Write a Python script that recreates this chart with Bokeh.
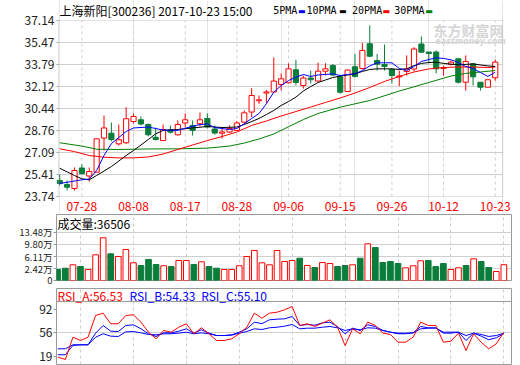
from bokeh.plotting import figure
from bokeh.models import Range1d, FixedTicker, Label, Span, ColumnDataSource, BoxAnnotation
from bokeh.core.properties import value
from bokeh.layouts import column
from bokeh.embed import file_html
from bokeh.resources import INLINE

# ---------------- data ----------------
dates = ["07-25", "07-26", "07-27", "07-28", "07-31", "08-01", "08-02", "08-03", "08-04", "08-07",
         "08-08", "08-09", "08-10", "08-11", "08-14", "08-15", "08-16", "08-17", "08-18", "08-21",
         "08-22", "08-23", "08-24", "08-25", "08-28", "08-29", "08-30", "08-31", "09-01", "09-04",
         "09-05", "09-06", "09-07", "09-08", "09-11", "09-12", "09-13", "09-14", "09-15", "09-18",
         "09-19", "09-20", "09-21", "09-22", "09-25", "09-26", "09-27", "09-28", "09-29", "10-09",
         "10-10", "10-11", "10-12", "10-13", "10-16", "10-17", "10-18", "10-19", "10-20", "10-23"]

opens = [24.96, 24.65, 24.35, 25.91, 25.30, 25.59, 28.19, 28.56, 27.75, 27.83,
         29.45, 29.58, 29.22, 28.25, 28.00, 28.82, 28.44, 29.34, 29.15, 29.28,
         29.68, 28.88, 28.56, 28.65, 28.77, 29.40, 30.17, 31.03, 31.62, 31.70,
         32.27, 32.40, 33.39, 32.19, 32.76, 32.53, 33.28, 33.71, 32.85, 31.73,
         33.62, 33.49, 35.37, 34.09, 33.79, 33.41, 32.85, 33.26, 33.45, 35.35,
         34.74, 34.74, 33.49, 33.79, 34.22, 32.44, 33.84, 32.44, 32.06, 32.78]
highs = [25.42, 24.96, 25.95, 26.18, 25.95, 28.16, 29.91, 29.37, 29.22, 30.54,
         30.06, 29.83, 29.30, 28.99, 29.22, 29.15, 29.53, 30.06, 29.53, 30.14,
         30.06, 29.15, 28.92, 29.15, 29.47, 30.29, 31.99, 31.43, 31.86, 34.32,
         33.11, 33.87, 34.15, 32.95, 33.33, 33.92, 33.89, 33.83, 32.88, 33.41,
         34.60, 35.43, 36.76, 34.60, 35.31, 33.49, 33.33, 34.48, 35.11, 35.92,
         34.74, 34.86, 33.71, 34.09, 34.25, 34.48, 33.87, 32.44, 32.65, 34.17]
lows = [24.58, 24.20, 24.20, 25.42, 24.88, 25.57, 27.24, 27.93, 27.62, 27.75,
        29.30, 29.15, 28.31, 28.00, 28.00, 28.54, 28.38, 29.02, 28.38, 29.07,
        28.92, 28.46, 28.16, 28.61, 28.77, 29.30, 29.78, 30.80, 30.80, 31.68,
        31.81, 32.34, 32.19, 31.96, 32.34, 32.50, 32.95, 32.91, 31.58, 31.70,
        32.80, 33.41, 34.35, 33.33, 33.33, 32.34, 32.14, 32.95, 33.26, 34.70,
        33.87, 33.11, 32.95, 33.71, 32.34, 31.81, 32.19, 31.81, 32.04, 32.57]
closes = [24.73, 24.45, 25.72, 25.47, 25.64, 28.13, 28.96, 28.08, 28.06, 29.66,
          29.83, 29.26, 28.44, 28.08, 28.84, 28.64, 29.22, 29.58, 28.77, 29.58,
          29.03, 28.57, 28.65, 28.92, 29.34, 30.11, 31.43, 31.10, 31.70, 32.53,
          32.70, 33.46, 32.42, 32.76, 32.63, 33.28, 33.46, 32.99, 31.68, 33.37,
          32.88, 34.86, 34.42, 33.81, 33.64, 32.95, 32.91, 33.45, 34.97, 34.73,
          34.63, 33.46, 33.56, 33.97, 32.44, 34.02, 32.85, 32.06, 32.63, 33.97]

# volume, in 万 (10k) shares
volumes = [2.21, 2.60, 3.63, 3.11, 2.21, 6.65, 11.79, 6.95, 6.14, 8.25,
           4.23, 3.42, 5.23, 3.72, 3.33, 3.11, 4.93, 4.93, 3.72, 4.53,
           3.11, 2.60, 2.21, 2.21, 3.33, 6.14, 7.95, 4.23, 3.63, 7.95,
           4.63, 4.93, 5.62, 3.42, 2.81, 4.32, 4.02, 3.11, 3.42, 3.63,
           5.62, 9.97, 8.85, 4.32, 4.63, 4.02, 2.72, 3.33, 4.84, 4.93,
           3.11, 4.02, 2.21, 2.72, 3.42, 5.44, 4.63, 2.81, 1.60, 3.65]

ma5_idx = [0, 3, 4, 5, 6, 7, 9, 10, 12, 14, 16, 17, 19, 20, 21, 23, 24, 25, 26, 27,
           28, 29, 30, 31, 32, 33, 34, 35, 36, 37, 38, 39, 40, 41, 42, 43, 44, 45, 46, 47,
           48, 49, 50, 51, 52, 53, 54, 55, 56, 57, 58, 59]
ma5_val = [24.73, 25.01, 25.07, 25.72, 26.86, 27.77, 28.69, 28.96, 29.03, 28.80,
           28.77, 28.94, 29.22, 29.26, 28.99, 28.84, 28.92, 29.28, 29.68, 30.06,
           30.80, 31.68, 32.19, 32.57, 32.82, 33.03, 32.88, 32.99, 33.03, 33.08,
           32.95, 33.03, 33.08, 33.33, 33.68, 33.92, 33.92, 33.92, 33.49, 33.33,
           33.64, 34.02, 34.17, 34.30, 34.25, 34.15, 33.94, 33.64, 33.49, 33.18,
           32.88, 33.20]
ma10_idx = [0, 2, 3, 4, 5, 7, 9, 10, 12, 13, 14, 16, 18, 20, 22, 24, 25, 26, 27, 28,
            29, 30, 31, 32, 33, 34, 35, 36, 37, 38, 39, 40, 41, 42, 43, 45, 46, 47, 48, 49,
            50, 51, 52, 54, 56, 58, 59]
ma10_val = [25.89, 25.34, 25.09, 25.01, 25.34, 26.02, 26.86, 27.24, 28.08, 28.51,
            28.77, 28.84, 28.96, 29.07, 28.99, 29.03, 29.22, 29.45, 29.68, 29.98,
            30.29, 30.67, 30.97, 31.31, 31.77, 32.11, 32.42, 32.61, 32.80, 32.91,
            32.99, 33.08, 33.26, 33.41, 33.46, 33.46, 33.41, 33.46, 33.71, 33.87,
            33.94, 33.97, 33.87, 33.77, 33.83, 33.68, 33.64]
ma20_idx = [0, 2, 4, 6, 8, 10, 12, 14, 16, 18, 20, 22, 24, 26, 28, 30, 32, 34, 36, 38,
            40, 42, 44, 46, 48, 50, 52, 54, 56, 58, 59]
ma20_val = [27.37, 27.16, 26.86, 26.73, 26.68, 26.68, 26.75, 26.97, 27.32, 27.66,
            28.00, 28.31, 28.65, 29.15, 29.49, 29.87, 30.21, 30.55, 30.90, 31.24,
            31.62, 32.04, 32.50, 32.88, 33.22, 33.45, 33.56, 33.60, 33.60, 33.56, 33.60]
ma30_idx = [0, 3, 5, 8, 12, 16, 20, 23, 25, 27, 29, 31, 33, 35, 38, 42, 46, 50, 53, 55, 57, 59]
ma30_val = [27.83, 27.58, 27.34, 27.32, 27.36, 27.37, 27.42, 27.58, 27.81, 28.12,
            28.50, 29.05, 29.60, 30.06, 30.54, 31.05, 31.77, 32.42, 32.91, 33.11, 33.22, 33.33]

rsi_a = [18.0, 14.4, 49.0, 43.9, 49.0, 82.7, 86.3, 69.8, 69.8, 82.7,
         83.8, 72.3, 56.8, 46.5, 59.4, 56.8, 64.5, 69.8, 54.3, 63.6,
         54.3, 43.9, 43.9, 46.5, 54.3, 64.5, 86.3, 78.5, 86.3, 87.8,
         91.5, 96.7, 67.2, 69.8, 65.6, 70.8, 76.0, 64.5, 36.1, 62.0,
         54.3, 72.3, 67.2, 55.3, 53.2, 41.2, 41.2, 49.0, 72.3, 67.2,
         67.2, 41.2, 42.8, 55.3, 28.3, 54.3, 41.2, 31.0, 38.7, 56.53]
rsi_b = [21.7, 21.7, 36.1, 37.2, 37.2, 55.3, 67.2, 58.3, 57.8, 67.2,
         68.2, 62.0, 54.3, 50.1, 55.8, 55.8, 58.3, 62.0, 55.3, 60.5,
         55.3, 51.6, 51.6, 52.7, 56.8, 62.0, 72.3, 70.0, 76.0, 77.0,
         77.5, 81.1, 67.2, 68.7, 67.6, 71.3, 72.3, 65.6, 54.3, 63.0,
         59.4, 68.2, 65.6, 59.4, 56.8, 54.3, 54.3, 55.8, 65.6, 63.6,
         63.6, 55.3, 55.3, 56.8, 43.9, 55.3, 50.6, 45.0, 48.1, 54.33]
rsi_c = [31.0, 31.0, 37.2, 37.2, 37.2, 49.0, 54.3, 50.6, 50.1, 57.3,
         57.8, 55.8, 53.2, 52.7, 54.3, 54.3, 55.3, 56.8, 54.3, 55.8,
         54.3, 51.6, 51.6, 52.1, 55.3, 57.8, 62.0, 60.9, 63.6, 64.5,
         66.1, 68.7, 62.0, 63.0, 63.0, 64.5, 65.6, 63.6, 59.4, 62.0,
         60.5, 63.6, 63.0, 59.4, 56.8, 55.3, 55.3, 55.8, 62.0, 63.0,
         63.0, 56.8, 56.8, 56.8, 51.6, 55.3, 53.2, 50.1, 51.6, 55.10]

title_text = "上海新阳[300236] 2017-10-23 15:00"
legend_names = ["5PMA", "10PMA", "20PMA", "30PMA"]
price_ticks = [23.74, 25.41, 27.09, 28.76, 30.44, 32.12, 33.79, 35.47, 37.14]
vol_ticks = [2.42, 6.11, 9.80, 13.48]
vol_tick_labels = ["2.42万", "6.11万", "9.80万", "13.48万"]
rsi_ticks = [19, 56, 92]
date_ticks = ["07-28", "08-08", "08-17", "08-28", "09-06", "09-15", "09-26", "10-12", "10-23"]
last_volume = 36506
rsi_names = ["RSI_A", "RSI_B", "RSI_C"]
rsi_last = [56.53, 54.33, 55.10]

# ---------------- style / geometry ----------------
FONT = "Noto Sans CJK SC"
MONO = "DejaVu Sans Mono"
RED = "#ff0000"
GREEN = "#0b7d3b"
BLUE = "#0000ff"
MA_GREEN = "#008000"
GRID = "#cfcfcf"
FRAME = "#9a9a9a"
W = 520

BOX_L, BOX_R = 56, 511          # pixel edges of the panels' frames
X0_PX, X_STEP = 57.3, 7.56      # pixel centre of first candle, pixels per trading day


def xdata(px):
    return (px - X0_PX) / X_STEP


n = len(dates)
idx = list(range(n))
tick_idx = [dates.index(d) for d in date_ticks]

# price panel geometry: box from y=20 to y=196 px
P_TOP_PX, P_BOT_PX = 20, 196
k_price = (price_ticks[-1] - price_ticks[0]) / (P_BOT_PX - P_TOP_PX)


def ydata(py):
    return price_ticks[-1] - (py - P_TOP_PX) * k_price


H1 = 213
p1 = figure(width=W, height=H1, x_range=Range1d(xdata(BOX_L - 2), xdata(W)),
            y_range=Range1d(ydata(H1), ydata(0)), x_axis_location=None,
            min_border_left=BOX_L - 2, min_border_right=0, min_border_top=0, min_border_bottom=0,
            output_backend="svg", toolbar_location=None)
p1.outline_line_color = None
p1.background_fill_color = "white"
p1.border_fill_color = "white"
p1.ygrid.grid_line_color = None
ya = p1.yaxis[0]
ya.ticker = FixedTicker(ticks=price_ticks)
ya.major_label_overrides = {t: "%.2f" % t for t in price_ticks}
ya.axis_line_color = None
ya.major_tick_out = 0
ya.major_tick_in = 0
ya.minor_tick_line_color = None
ya.major_label_standoff = 2
ya.major_label_text_font = FONT
ya.major_label_text_font_size = "12px"
ya.major_label_text_color = "#222222"

bl, br = xdata(BOX_L), xdata(BOX_R)
inner = price_ticks[1:-1]
# grid
p1.segment(x0=[bl] * len(inner), y0=inner, x1=[br] * len(inner), y1=inner, line_color=GRID, line_width=1)
p1.segment(x0=tick_idx, y0=[price_ticks[0]] * len(tick_idx), x1=tick_idx, y1=[price_ticks[-1]] * len(tick_idx),
           line_color=GRID, line_width=1, line_dash="3 3")
# small tick marks left of the frame
p1.segment(x0=[xdata(BOX_L - 3)] * len(price_ticks), y0=price_ticks, x1=[bl] * len(price_ticks), y1=price_ticks,
           line_color=FRAME, line_width=1)

# watermark
p1.add_layout(Label(x=xdata(440), y=ydata(29), text="东方财富网", text_font=FONT, text_font_size="14px",
                    text_font_style="bold", text_color="#d6d6d6", text_baseline="middle"))
p1.add_layout(Label(x=xdata(442), y=ydata(41), text="eastmoney.com", text_font="DejaVu Sans", text_font_size="8px",
                    text_font_style="bold italic", text_color="#d6d6d6", text_baseline="middle"))

up = [i for i in idx if closes[i] >= opens[i]]
dn = [i for i in idx if closes[i] < opens[i]]


def pick(lst, ids):
    return [lst[i] for i in ids]


up_src = ColumnDataSource(dict(x=up, o=pick(opens, up), c=pick(closes, up), h=pick(highs, up),
                               l=pick(lows, up), v=pick(volumes, up)))
dn_src = ColumnDataSource(dict(x=dn, o=pick(opens, dn), c=pick(closes, dn), h=pick(highs, dn),
                               l=pick(lows, dn), v=pick(volumes, dn)))

p1.segment(x0="x", y0="h", x1="x", y1="c", source=up_src, line_color=RED, line_width=1)
p1.segment(x0="x", y0="o", x1="x", y1="l", source=up_src, line_color=RED, line_width=1)
p1.vbar(x="x", width=0.7, top="c", bottom="o", source=up_src, fill_color="white", line_color=RED, line_width=1)
p1.segment(x0="x", y0="h", x1="x", y1="l", source=dn_src, line_color=GREEN, line_width=1)
p1.vbar(x="x", width=0.7, top="o", bottom="c", source=dn_src, fill_color=GREEN, line_color=GREEN, line_width=1)

p1.line(ma30_idx, ma30_val, line_color=MA_GREEN, line_width=1)
p1.line(ma20_idx, ma20_val, line_color=RED, line_width=1)
p1.line(ma10_idx, ma10_val, line_color="black", line_width=1)
p1.line(ma5_idx, ma5_val, line_color=BLUE, line_width=1)

# frame box
p1.add_layout(BoxAnnotation(left=bl, right=br, top=price_ticks[-1], bottom=price_ticks[0],
                            fill_color=None, line_color=FRAME, line_width=1))

# date labels under the box
p1.text(x=tick_idx, y=[ydata(205.5)] * len(tick_idx), text=date_ticks, text_font=value(FONT),
        text_font_size=value("12px"), text_color=RED, text_align="center", text_baseline="middle")

# title + legend above the box
p1.add_layout(Label(x=xdata(57), y=ydata(10), text=title_text, text_font=FONT,
                    text_font_size="12px", text_color="black", text_baseline="middle"))
legend_colors = [BLUE, "black", RED, MA_GREEN]
legend_text_px = [276, 310, 356.7, 400]
legend_bar_px = [301.3, 343.3, 388, 431.7]
for name, col, tx, bx in zip(legend_names, legend_colors, legend_text_px, legend_bar_px):
    p1.add_layout(Label(x=xdata(tx), y=ydata(10), text=name, text_font=MONO,
                        text_font_size="10px", text_color="black", text_baseline="middle"))
    p1.add_layout(Label(x=xdata(bx), y=ydata(11), text="▬", text_font="DejaVu Sans",
                        text_font_size="8px", text_color=col, text_baseline="middle"))


def panel_style(p):
    p.outline_line_color = FRAME
    p.background_fill_color = "white"
    p.border_fill_color = "white"
    p.xaxis.visible = False
    p.xgrid.ticker = FixedTicker(ticks=tick_idx)
    p.xgrid.grid_line_color = GRID
    p.xgrid.grid_line_dash = "3 3"
    p.ygrid.grid_line_color = GRID
    ax = p.yaxis[0]
    ax.axis_line_color = None
    ax.major_tick_out = 3
    ax.major_tick_in = 0
    ax.minor_tick_line_color = None
    ax.major_tick_line_color = FRAME
    ax.major_label_standoff = 1
    ax.major_label_text_font = FONT
    ax.major_label_text_color = "#222222"


x_panel = Range1d(xdata(BOX_L), xdata(BOX_R))

# ---------------- volume panel (box 214..280 px) ----------------
VOL_PX_PER = 3.31
vol_top = vol_ticks[0] + (268.3 - 214) / VOL_PX_PER
vol_base = vol_ticks[0] - (280 - 268.3) / VOL_PX_PER
p2 = figure(width=W, height=73, x_range=x_panel, y_range=Range1d(vol_base, vol_top),
            min_border_left=BOX_L, min_border_right=W - BOX_R, min_border_top=1, min_border_bottom=6,
            output_backend="svg", toolbar_location=None)
panel_style(p2)
p2.yaxis.ticker = FixedTicker(ticks=[vol_base] + vol_ticks)
ov = {vol_base: "0"}
ov.update({t: s for t, s in zip(vol_ticks, vol_tick_labels)})
p2.yaxis.major_label_overrides = ov
p2.yaxis.major_label_text_font_size = "9.5px"
p2.ygrid.ticker = FixedTicker(ticks=vol_ticks)
p2.vbar(x="x", width=0.75, top="v", bottom=vol_base, source=up_src, fill_color="white", line_color=RED, line_width=1)
p2.vbar(x="x", width=0.75, top="v", bottom=vol_base, source=dn_src, fill_color=GREEN, line_color=GREEN, line_width=1)
p2.add_layout(Label(x=xdata(57), y=vol_top, y_offset=-8.5, text="成交量:%d" % last_volume,
                    text_font=FONT, text_font_size="12px", text_color="black", text_baseline="middle"))

# ---------------- RSI panel (box 288..364 px) ----------------
RSI_PX_PER = 0.644
rsi_hi = 92 + (309 - 288) / RSI_PX_PER
rsi_lo = 92 - (364 - 309) / RSI_PX_PER
rsi_sep = 92 + (309 - 301) / RSI_PX_PER
p3 = figure(width=W, height=79, x_range=x_panel, y_range=Range1d(rsi_lo, rsi_hi),
            min_border_left=BOX_L, min_border_right=W - BOX_R, min_border_top=2, min_border_bottom=1,
            output_backend="svg", toolbar_location=None)
panel_style(p3)
p3.yaxis.ticker = FixedTicker(ticks=rsi_ticks)
p3.yaxis.major_label_text_font_size = "12px"
p3.ygrid.ticker = FixedTicker(ticks=[56])
p3.add_layout(Span(location=rsi_sep, dimension="width", line_color=FRAME, line_width=1))
p3.line(idx, rsi_c, line_color=BLUE, line_width=1)
p3.line(idx, rsi_b, line_color=BLUE, line_width=1)
p3.line(idx, rsi_a, line_color=RED, line_width=1)
rsi_colors = [RED, BLUE, BLUE]
rsi_px = [57, 129, 200.7]
for nm, val, col, px in zip(rsi_names, rsi_last, rsi_colors, rsi_px):
    p3.add_layout(Label(x=xdata(px), y=rsi_hi, y_offset=-6.5, text="%s:%.2f" % (nm, val),
                        text_font=FONT, text_font_size="12px", text_color=col, text_baseline="middle"))

layout = column(p1, p2, p3)
open("out.html", "w").write(file_html(layout, INLINE))
